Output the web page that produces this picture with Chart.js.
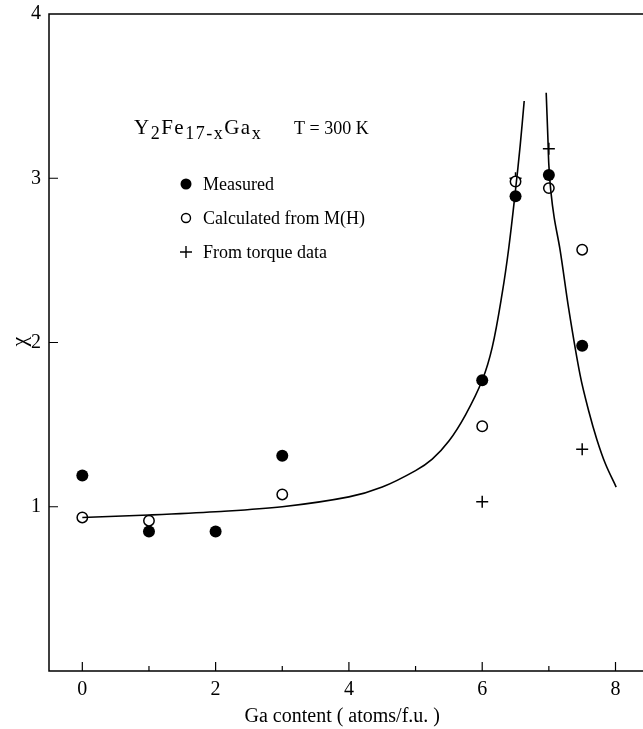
<!DOCTYPE html>
<html>
<head>
<meta charset="utf-8">
<script src="https://cdn.jsdelivr.net/npm/chart.js@4.4.1/dist/chart.umd.min.js"></script>
<style>
  html, body { margin: 0; padding: 0; background: #fff; }
  #wrap { width: 643px; height: 729px; position: relative; }
</style>
</head>
<body>
<div id="wrap"><canvas id="chi"></canvas></div>
<script>
// Ga content x and chi values
const measuredX = [0, 1, 2, 3, 6, 6.5, 7, 7.5];
const measuredY = [1.19, 0.85, 0.85, 1.31, 1.77, 2.89, 3.02, 1.98];
const calcX = [0, 1, 3, 6, 6.5, 7, 7.5];
const calcY = [0.935, 0.915, 1.075, 1.49, 2.98, 2.94, 2.565];
const torqueX = [6, 6.5, 7, 7.5];
const torqueY = [1.03, 3.0, 3.18, 1.35];
// fitted curve, two branches either side of the divergence
const curveLeftX = [0, 1, 2, 3, 4, 4.5, 5, 5.25, 5.5, 5.75, 6, 6.15, 6.3, 6.4, 6.5, 6.57, 6.63];
const curveLeftY = [0.935, 0.95, 0.97, 1.0, 1.06, 1.12, 1.22, 1.29, 1.40, 1.56, 1.77, 1.97, 2.3, 2.58, 2.93, 3.2, 3.47];
const curveRightX = [6.96, 6.985, 7.0, 7.03, 7.08, 7.17, 7.3, 7.47, 7.6, 7.72, 7.85, 8.01];
const curveRightY = [3.52, 3.25, 3.08, 2.92, 2.76, 2.56, 2.2, 1.8, 1.58, 1.41, 1.26, 1.12];

const xTicks = [0, 2, 4, 6, 8];
const xMinorTicks = [1, 3, 5, 7];
const yTicks = [1, 2, 3, 4];

const legendLabels = ['Measured', 'Calculated from M(H)', 'From torque data'];
const xTitle = 'Ga content ( atoms/f.u. )';
const yTitle = 'χ';

const serif = '"Liberation Serif", "DejaVu Serif", serif';

function pts(xs, ys) {
    return xs.map((x, i) => ({ x: x, y: ys[i] }));
}

// frame, inward tick marks, header and in-plot legend
const decorations = {
    id: 'decorations',
    afterDraw(chart) {
        const ctx = chart.ctx;
        const a = chart.chartArea;
        const xs = chart.scales.x;
        const ys = chart.scales.y;
        ctx.save();
        ctx.strokeStyle = '#000';
        ctx.lineWidth = 1.5;
        ctx.beginPath();
        ctx.moveTo(chart.width, a.top);
        ctx.lineTo(a.left, a.top);
        ctx.lineTo(a.left, a.bottom);
        ctx.lineTo(chart.width, a.bottom);
        ctx.stroke();

        ctx.lineWidth = 1.2;
        ctx.beginPath();
        xTicks.forEach((v) => {
            const px = xs.getPixelForValue(v);
            ctx.moveTo(px, a.bottom);
            ctx.lineTo(px, a.bottom - 9);
        });
        xMinorTicks.forEach((v) => {
            const px = xs.getPixelForValue(v);
            ctx.moveTo(px, a.bottom);
            ctx.lineTo(px, a.bottom - 5);
        });
        yTicks.slice(0, 3).forEach((v) => {
            const py = ys.getPixelForValue(v);
            ctx.moveTo(a.left, py);
            ctx.lineTo(a.left + 9, py);
        });
        ctx.stroke();

        // y title (chi, turned on its side)
        ctx.fillStyle = '#000';
        ctx.save();
        ctx.translate(20, ys.getPixelForValue(2) - 1);
        ctx.rotate(-Math.PI / 2);
        ctx.font = '22px ' + serif;
        ctx.textAlign = 'center';
        ctx.textBaseline = 'middle';
        ctx.fillText(yTitle, 0, 0);
        ctx.restore();

        // header: Y2Fe17-xGax   T = 300 K
        ctx.textBaseline = 'alphabetic';
        ctx.textAlign = 'left';
        const base = 134;
        let hx = 134;
        const parts = [['Y', 0], ['2', 1], ['Fe', 0], ['17-x', 1], ['Ga', 0], ['x', 1]];
        ctx.letterSpacing = '1.5px';
        parts.forEach(([t, sub]) => {
            ctx.font = (sub ? '18px ' : '21px ') + serif;
            ctx.fillText(t, hx, base + (sub ? 5 : 0));
            hx += ctx.measureText(t).width;
        });
        ctx.letterSpacing = '0px';
        ctx.font = '18px ' + serif;
        ctx.fillText('T = 300 K', 294, base);

        // legend
        const rows = [184, 218, 252];
        ctx.font = '18px ' + serif;
        ctx.textBaseline = 'middle';
        legendLabels.forEach((t, i) => {
            const cy = rows[i];
            ctx.lineWidth = 1.4;
            if (i === 0) {
                ctx.beginPath();
                ctx.arc(186, cy, 5.5, 0, Math.PI * 2);
                ctx.fill();
            } else if (i === 1) {
                ctx.beginPath();
                ctx.arc(186, cy, 4.5, 0, Math.PI * 2);
                ctx.stroke();
            } else {
                ctx.beginPath();
                ctx.moveTo(180, cy);
                ctx.lineTo(192, cy);
                ctx.moveTo(186, cy - 6);
                ctx.lineTo(186, cy + 6);
                ctx.stroke();
            }
            ctx.fillText(t, 203, cy + 1);
        });
        ctx.restore();
    }
};

new Chart('chi', {
    type: 'scatter',
    data: {
        datasets: [
            {
                type: 'line',
                data: pts(curveLeftX, curveLeftY),
                borderColor: '#000',
                borderWidth: 1.6,
                pointRadius: 0,
                tension: 0.35,
                fill: false
            },
            {
                type: 'line',
                data: pts(curveRightX, curveRightY),
                borderColor: '#000',
                borderWidth: 1.6,
                pointRadius: 0,
                tension: 0.35,
                fill: false
            },
            {
                label: legendLabels[1],
                data: pts(calcX, calcY),
                pointStyle: 'circle',
                pointRadius: 5.2,
                backgroundColor: '#fff',
                borderColor: '#000',
                borderWidth: 1.5
            },
            {
                label: legendLabels[0],
                data: pts(measuredX, measuredY),
                pointStyle: 'circle',
                pointRadius: 6,
                backgroundColor: '#000',
                borderColor: '#000',
                borderWidth: 0
            },
            {
                label: legendLabels[2],
                data: pts(torqueX, torqueY),
                pointStyle: 'cross',
                pointRadius: 6,
                borderColor: '#000',
                borderWidth: 1.5
            }
        ]
    },
    options: {
        responsive: true,
        maintainAspectRatio: false,
        animation: false,
        clip: false,
        layout: { padding: { top: 14, right: 0, left: 0, bottom: 0 } },
        plugins: { legend: { display: false }, tooltip: { enabled: false } },
        scales: {
            x: {
                type: 'linear',
                min: -0.5,
                max: 8.3,
                grid: { display: false, drawTicks: false },
                border: { display: false },
                afterBuildTicks: (s) => { s.ticks = xTicks.map((v) => ({ value: v })); },
                afterFit: (s) => { s.height = 58; },
                ticks: {
                    color: '#000',
                    padding: 7,
                    maxRotation: 0,
                    font: { family: serif, size: 20 }
                },
                title: {
                    display: true,
                    text: xTitle,
                    color: '#000',
                    padding: { top: 3, bottom: 0 },
                    font: { family: serif, size: 20 }
                }
            },
            y: {
                type: 'linear',
                min: 0,
                max: 4,
                grid: { display: false, drawTicks: false },
                border: { display: false },
                afterBuildTicks: (s) => { s.ticks = yTicks.map((v) => ({ value: v })); },
                afterFit: (s) => { s.width = 49; s.paddingTop = 0; s.paddingBottom = 0; },
                ticks: {
                    color: '#000',
                    padding: 8,
                    font: { family: serif, size: 20 }
                }
            }
        }
    },
    plugins: [decorations]
});
</script>
</body>
</html>
